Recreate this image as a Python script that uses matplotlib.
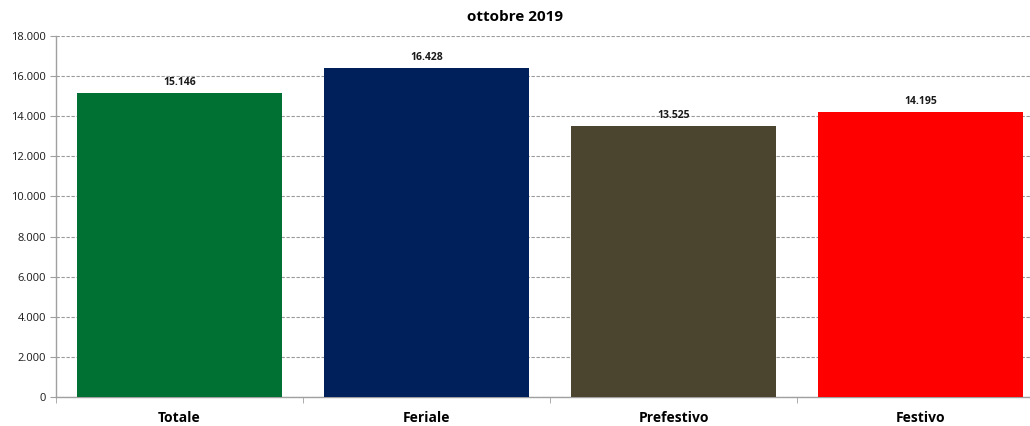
import matplotlib
matplotlib.use("Agg")
import matplotlib.pyplot as plt
from matplotlib.ticker import FuncFormatter, FixedLocator

categories = ["Totale", "Feriale", "Prefestivo", "Festivo"]
values = [15146, 16428, 13525, 14195]
colors = ["#007033", "#00205B", "#4B452F", "#FF0000"]
title = "ottobre 2019"

plt.rcParams['font.family'] = ['Open Sans', 'DejaVu Sans']

fig = plt.figure(figsize=(10.30, 4.26), dpi=100)
# axes extends slightly beyond the right edge (as in the reference crop)
ax = fig.add_axes([56/1030, 1-397/426, 988/1030, (397-36)/426])

x = list(range(len(categories)))
ax.bar(x, values, width=0.83, color=colors, zorder=3, edgecolor="none")
ax.set_xlim(-0.5, len(categories) - 0.5)
ax.set_ylim(0, 18000)
ax.set_yticks(range(0, 18001, 2000))

def fmt(v, pos=None):
    return f"{int(v):,}".replace(",", ".")

ax.yaxis.set_major_formatter(FuncFormatter(fmt))
ax.grid(axis="y", color="#9a9a9a", linestyle=(0, (3, 1.5)), linewidth=0.8, zorder=0)

for xi, v in zip(x, values):
    ax.text(xi, v + 250, fmt(v), ha="center", va="bottom", fontsize=7.5,
            fontweight="bold", color="#1a1a1a", zorder=4)

ax.set_xticks(x)
ax.set_xticklabels(categories, fontsize=10, fontweight="bold")
ax.tick_params(axis="x", length=0, pad=10)
ax.xaxis.set_minor_locator(FixedLocator([i - 0.5 for i in range(len(categories) + 1)]))
ax.tick_params(axis="x", which="minor", length=4, color="#a0a0a0")
ax.tick_params(axis="y", labelsize=8, length=4, color="#a0a0a0", labelcolor="#1a1a1a", pad=3)

for s in ["top", "right"]:
    ax.spines[s].set_visible(False)
for s in ["left", "bottom"]:
    ax.spines[s].set_color("#a0a0a0")
    ax.spines[s].set_linewidth(1.0)

fig.text(0.5, 1-17/426, title, ha="center", va="center", fontsize=11, fontweight="bold")

fig.savefig("out.png", dpi=100)
